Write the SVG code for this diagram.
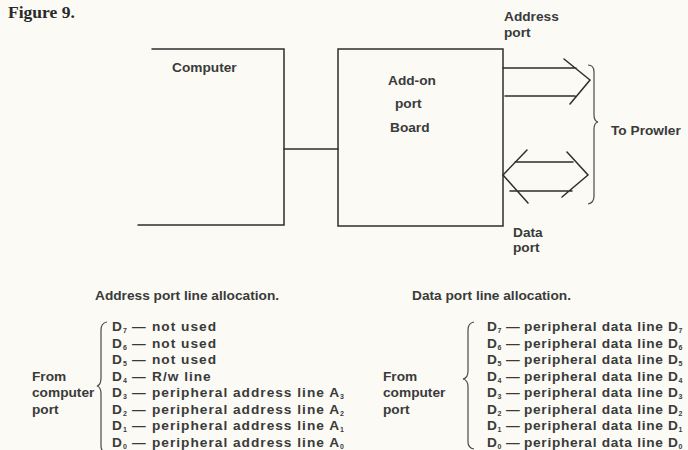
<svg xmlns="http://www.w3.org/2000/svg" width="688" height="450" viewBox="0 0 688 450">
<style>
.t{font-family:"Liberation Sans",Arial,sans-serif;font-weight:bold;font-size:13.7px;fill:#3a3a3a}
.r{letter-spacing:0.7px}
.ra{letter-spacing:1px}
.s{font-size:7px;letter-spacing:0}
.ln{fill:none;stroke:#2e2e2e;stroke-width:1.5;stroke-linecap:round;stroke-linejoin:miter}
.br{fill:none;stroke:#4a4a4a;stroke-width:1.2}
</style>
<rect width="688" height="450" fill="#fbfaf5"/>
<text x="8" y="18" style="font-family:'Liberation Serif','Times New Roman',serif;font-weight:bold;font-size:17.5px;fill:#2a2a2a">Figure 9.</text>

<g id="computer">
<path class="ln" d="M152,49 H284 V225 H138"/>
<text class="t" x="172" y="72">Computer</text>
</g>

<g id="addon-board">
<rect class="ln" x="338" y="49" width="165" height="177"/>
<text class="t" x="388" y="85">Add-on</text>
<text class="t" x="395" y="108">port</text>
<text class="t" x="390" y="132">Board</text>
</g>

<g id="connectors">
<path class="ln" d="M284,149 H338"/>
<g id="address-bus">
<path class="ln" d="M503,68 H576 M505,96 H575 M564,59 L590,80 L570,104"/>
</g>
<g id="data-bus">
<path class="ln" d="M515,162 H573 M510,191 H572 M527,150 L503,175 L528,203 M567,152 L588,175 L562,197"/>
</g>
</g>

<g id="labels">
<text class="t" x="504" y="21">Address</text>
<text class="t" x="504" y="37">port</text>
<text class="t" x="513" y="237">Data</text>
<text class="t" x="513" y="252">port</text>
</g>

<g id="to-prowler">
<path class="br" d="M588,65 Q594,65 594,72 L594,115 Q594,121 598,122 Q594,123 594,129 L594,196 Q594,203 588,204"/>
<text class="t" x="611" y="135">To Prowler</text>
</g>

<g id="address-allocation">
<text class="t" x="95" y="300">Address port line allocation.</text>
<path class="br" d="M107,322 Q101,323 101,330 L101,378 Q101,385 97,386 Q101,387 101,394 L101,446 Q101,452 107,453"/>
<text class="t" x="32" y="380.5">From</text>
<text class="t" x="32" y="397">computer</text>
<text class="t" x="32" y="413.5">port</text>
<text class="t ra" y="331"><tspan x="112">D</tspan><tspan class="s" dy="2">7</tspan><tspan x="132" dy="-2">—</tspan><tspan x="152">not used</tspan></text>
<text class="t ra" y="347.5"><tspan x="112">D</tspan><tspan class="s" dy="2">6</tspan><tspan x="132" dy="-2">—</tspan><tspan x="152">not used</tspan></text>
<text class="t ra" y="364"><tspan x="112">D</tspan><tspan class="s" dy="2">5</tspan><tspan x="132" dy="-2">—</tspan><tspan x="152">not used</tspan></text>
<text class="t ra" y="380.5"><tspan x="112">D</tspan><tspan class="s" dy="2">4</tspan><tspan x="132" dy="-2">—</tspan><tspan x="152">R/w line</tspan></text>
<text class="t ra" y="397"><tspan x="112">D</tspan><tspan class="s" dy="2">3</tspan><tspan x="132" dy="-2">—</tspan><tspan x="152">peripheral address line A</tspan><tspan class="s" dy="2">3</tspan></text>
<text class="t ra" y="413.5"><tspan x="112">D</tspan><tspan class="s" dy="2">2</tspan><tspan x="132" dy="-2">—</tspan><tspan x="152">peripheral address line A</tspan><tspan class="s" dy="2">2</tspan></text>
<text class="t ra" y="430"><tspan x="112">D</tspan><tspan class="s" dy="2">1</tspan><tspan x="132" dy="-2">—</tspan><tspan x="152">peripheral address line A</tspan><tspan class="s" dy="2">1</tspan></text>
<text class="t ra" y="446.5"><tspan x="112">D</tspan><tspan class="s" dy="2">0</tspan><tspan x="132" dy="-2">—</tspan><tspan x="152">peripheral address line A</tspan><tspan class="s" dy="2">0</tspan></text>
</g>

<g id="data-allocation">
<text class="t" x="412" y="300">Data port line allocation.</text>
<path class="br" d="M474,322 Q468,323 468,330 L468,371 Q468,378 463,379 Q468,380 468,387 L468,442 Q468,448 474,449"/>
<text class="t" x="383" y="380.5">From</text>
<text class="t" x="383" y="397">computer</text>
<text class="t" x="383" y="413.5">port</text>
<text class="t r" y="331"><tspan x="487">D</tspan><tspan class="s" dy="2">7</tspan><tspan x="506" dy="-2">—</tspan><tspan x="524">peripheral data line D</tspan><tspan class="s" dy="2">7</tspan></text>
<text class="t r" y="347.5"><tspan x="487">D</tspan><tspan class="s" dy="2">6</tspan><tspan x="506" dy="-2">—</tspan><tspan x="524">peripheral data line D</tspan><tspan class="s" dy="2">6</tspan></text>
<text class="t r" y="364"><tspan x="487">D</tspan><tspan class="s" dy="2">5</tspan><tspan x="506" dy="-2">—</tspan><tspan x="524">peripheral data line D</tspan><tspan class="s" dy="2">5</tspan></text>
<text class="t r" y="380.5"><tspan x="487">D</tspan><tspan class="s" dy="2">4</tspan><tspan x="506" dy="-2">—</tspan><tspan x="524">peripheral data line D</tspan><tspan class="s" dy="2">4</tspan></text>
<text class="t r" y="397"><tspan x="487">D</tspan><tspan class="s" dy="2">3</tspan><tspan x="506" dy="-2">—</tspan><tspan x="524">peripheral data line D</tspan><tspan class="s" dy="2">3</tspan></text>
<text class="t r" y="413.5"><tspan x="487">D</tspan><tspan class="s" dy="2">2</tspan><tspan x="506" dy="-2">—</tspan><tspan x="524">peripheral data line D</tspan><tspan class="s" dy="2">2</tspan></text>
<text class="t r" y="430"><tspan x="487">D</tspan><tspan class="s" dy="2">1</tspan><tspan x="506" dy="-2">—</tspan><tspan x="524">peripheral data line D</tspan><tspan class="s" dy="2">1</tspan></text>
<text class="t r" y="446.5"><tspan x="487">D</tspan><tspan class="s" dy="2">0</tspan><tspan x="506" dy="-2">—</tspan><tspan x="524">peripheral data line D</tspan><tspan class="s" dy="2">0</tspan></text>
</g>
</svg>
